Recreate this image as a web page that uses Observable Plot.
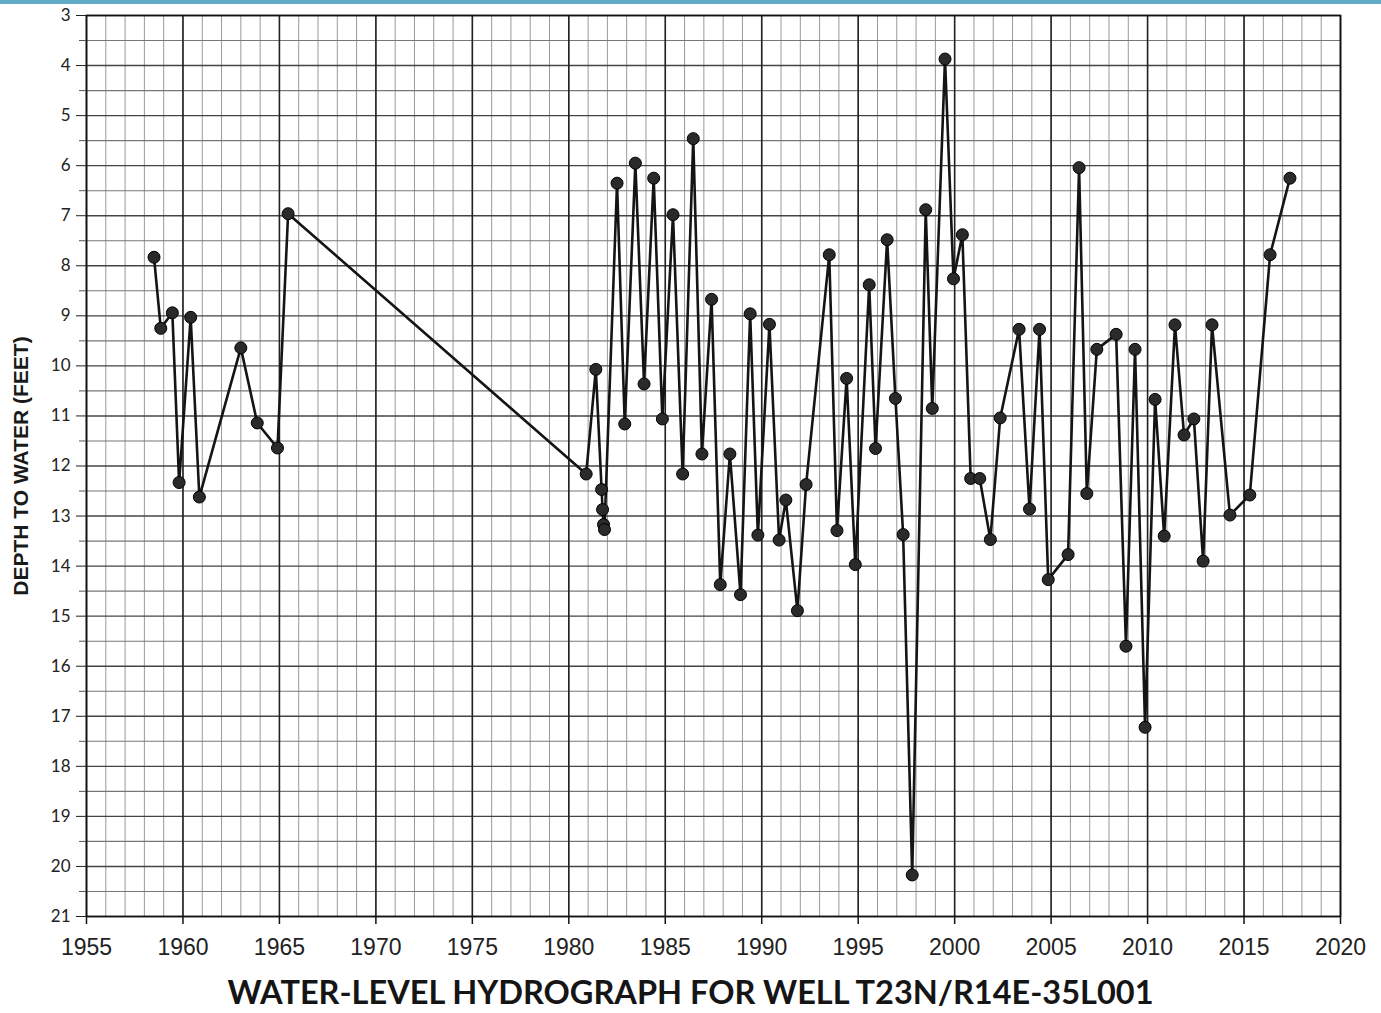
<!DOCTYPE html>
<html>
<head>
<meta charset="utf-8">
<script src="https://cdn.jsdelivr.net/npm/d3@7"></script>
<script src="https://cdn.jsdelivr.net/npm/@observablehq/plot@0.6"></script>
<style>
  html, body { margin: 0; padding: 0; background: #fff; overflow: hidden; }
  #bar { position: absolute; left: 0; top: 0; width: 1381px; height: 4px; background: #63aac6; }
  #chart svg { display: block; }
  #title { width: 1381px; text-align: center; font-family: Lato, "Open Sans", sans-serif; font-weight: bold; font-size: 32.5px; color: #151515; line-height: 38px; height: 38px; margin-top: 3px; white-space: nowrap; }
</style>
</head>
<body>
<div id="bar"></div>
<div id="chart"></div>
<div id="title">WATER-LEVEL HYDROGRAPH FOR WELL T23N/R14E-35L001</div>
<script>
const years = [
  1958.5, 1958.85, 1959.45, 1959.8, 1960.4, 1960.85, 1963.0, 1963.85, 1964.9, 1965.45,
  1980.9, 1981.4, 1981.7, 1981.75, 1981.8, 1981.85, 1982.5, 1982.9, 1983.45, 1983.9,
  1984.4, 1984.85, 1985.4, 1985.9, 1986.45, 1986.9, 1987.4, 1987.85, 1988.35, 1988.9,
  1989.4, 1989.8, 1990.4, 1990.9, 1991.25, 1991.85, 1992.3, 1993.5, 1993.9, 1994.4,
  1994.85, 1995.57, 1995.9, 1996.5, 1996.93, 1997.33, 1997.8, 1998.5, 1998.84, 1999.5,
  1999.94, 2000.4, 2000.83, 2001.3, 2001.85, 2002.36, 2003.34, 2003.88, 2004.4, 2004.85,
  2005.88, 2006.45, 2006.85, 2007.37, 2008.37, 2008.88, 2009.35, 2009.87, 2010.39, 2010.86,
  2011.42, 2011.89, 2012.4, 2012.88, 2013.34, 2014.27, 2015.3, 2016.35, 2017.38
];
const depths = [
  7.83, 9.25, 8.94, 12.33, 9.03, 12.62, 9.64, 11.14, 11.64, 6.96,
  12.16, 10.07, 12.47, 12.87, 13.17, 13.27, 6.35, 11.16, 5.95, 10.36,
  6.25, 11.06, 6.98, 12.16, 5.46, 11.76, 8.67, 14.37, 11.76, 14.57,
  8.96, 13.38, 9.17, 13.48, 12.68, 14.89, 12.37, 7.78, 13.29, 10.25,
  13.97, 8.38, 11.65, 7.48, 10.65, 13.37, 20.17, 6.88, 10.85, 3.87,
  8.26, 7.38, 12.25, 12.25, 13.47, 11.04, 9.27, 12.86, 9.27, 14.27,
  13.77, 6.04, 12.55, 9.67, 9.37, 15.6, 9.67, 17.22, 10.67, 13.4,
  9.18, 11.38, 11.06, 13.9, 9.18, 12.98, 12.58, 7.78, 6.25
];
const xTicks = [1955, 1960, 1965, 1970, 1975, 1980, 1985, 1990, 1995, 2000, 2005, 2010, 2015, 2020];
const yTicks = [3, 4, 5, 6, 7, 8, 9, 10, 11, 12, 13, 14, 15, 16, 17, 18, 19, 20, 21];
const yLabel = "DEPTH TO WATER (FEET)";

const data = years.map((year, i) => ({year, depth: depths[i]}));
const minorYears = d3.range(1955, 2021);
const halfFeet = d3.range(3.5, 21, 1);

const chart = Plot.plot({
  width: 1381,
  height: 970,
  marginTop: 15,
  marginBottom: 54,
  marginLeft: 86,
  marginRight: 41,
  style: {background: "#fff", fontFamily: "'Liberation Sans', Arial, sans-serif", color: "#222"},
  x: {domain: [1955, 2020]},
  y: {domain: [3, 21], reverse: true},
  marks: [
    Plot.ruleX(minorYears, {stroke: "#9a9a9a", strokeWidth: 1}),
    Plot.ruleY(halfFeet, {stroke: "#777", strokeWidth: 1.1}),
    Plot.ruleY(yTicks, {stroke: "#444", strokeWidth: 1.4}),
    Plot.ruleX(xTicks, {stroke: "#222", strokeWidth: 1.6}),
    Plot.frame({stroke: "#111", strokeWidth: 1.6}),
    Plot.axisX({ticks: xTicks, tickFormat: "d", tickSize: 8, tickPadding: 14, fontSize: 23, label: null, stroke: "#111", strokeWidth: 1.5}),
    Plot.axisY({ticks: yTicks, tickSize: 10, tickPadding: 6, fontSize: 17, label: null, fontFamily: "Lato, sans-serif", stroke: "#222"}),
    Plot.axisY({ticks: halfFeet, tickSize: 7, tickFormat: () => "", label: null, stroke: "#555"}),
    Plot.text([yLabel], {frameAnchor: "left", textAnchor: "middle", rotate: -90, dx: -65, fontWeight: "bold", fontSize: 21, fill: "#1a1a1a"}),
    Plot.line(data, {x: "year", y: "depth", stroke: "#141414", strokeWidth: 2.6}),
    Plot.dot(data, {x: "year", y: "depth", r: 6, fill: "#2a2a2a", stroke: "#000", strokeWidth: 1})
  ]
});
document.getElementById("chart").appendChild(chart);
</script>
</body>
</html>
